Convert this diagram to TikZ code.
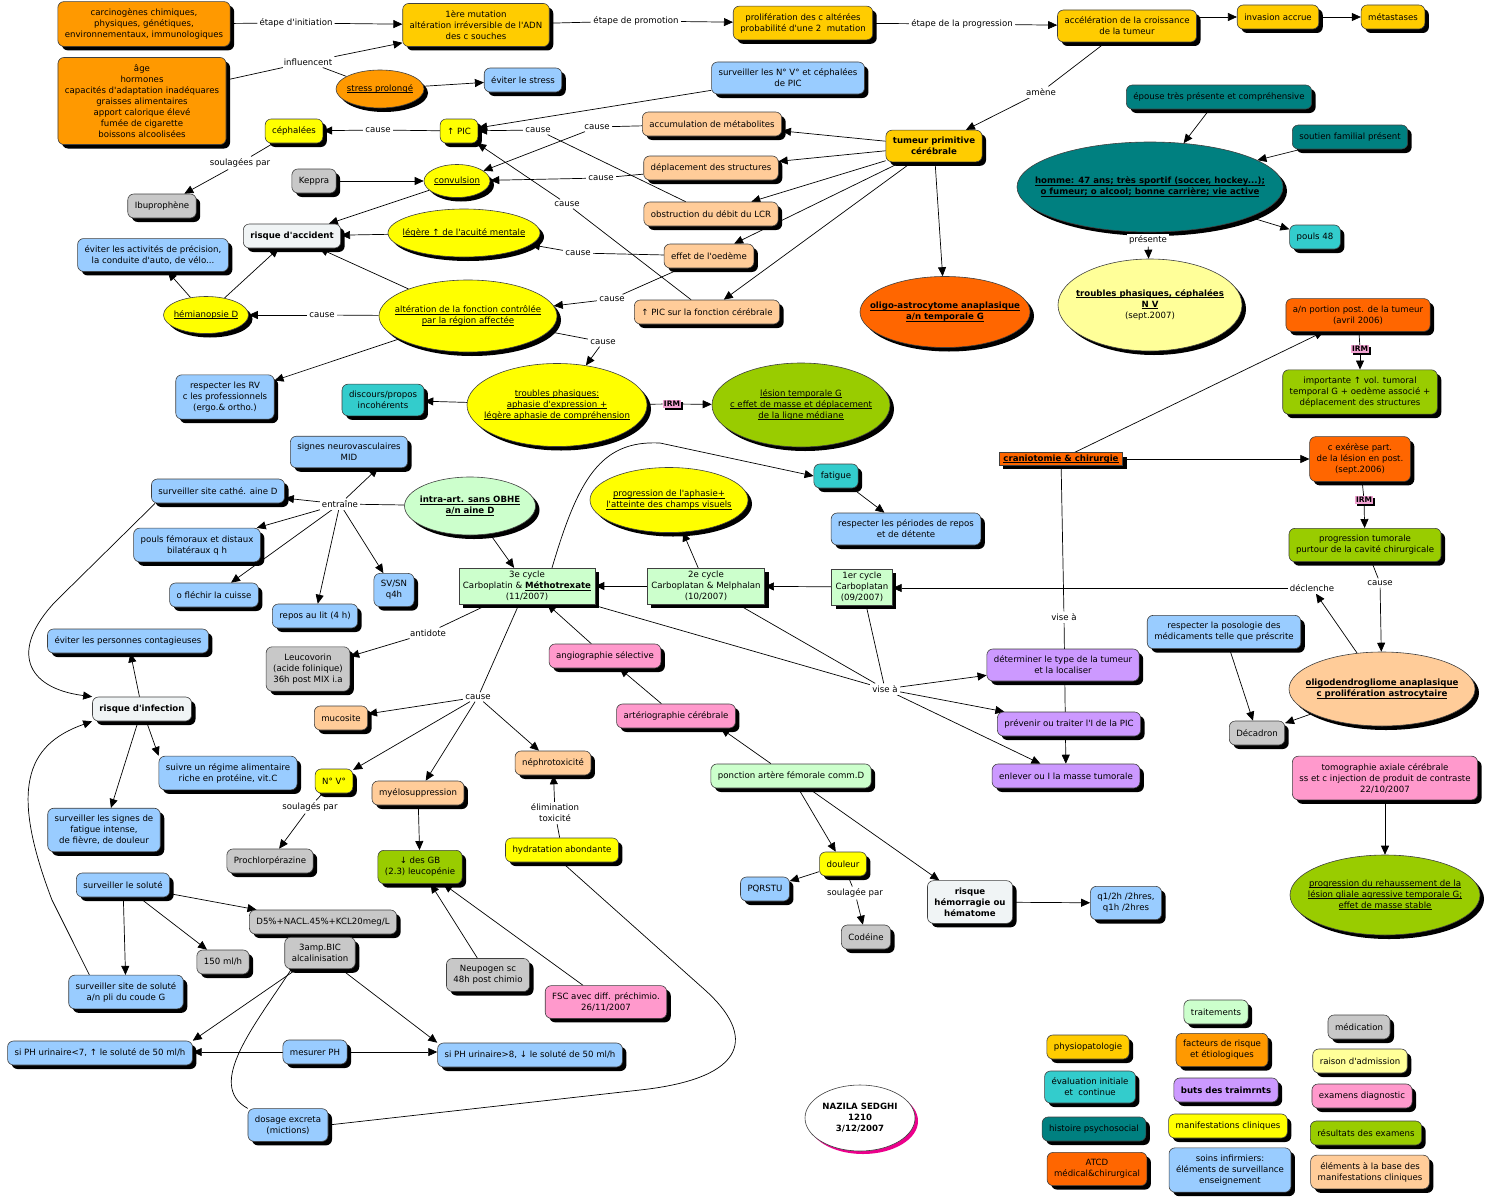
\documentclass[tikz,border=0pt]{standalone}
\usepackage{fontspec}
\setmainfont{DejaVu Sans}[Ligatures=TeXOff]
\usetikzlibrary{arrows.meta,shapes.geometric,shadows,backgrounds}

\definecolor{cgold}{HTML}{FFCC00}
\definecolor{corng}{HTML}{FF9900}
\definecolor{cred}{HTML}{FF6600}
\definecolor{cblue}{HTML}{99CCFF}
\definecolor{cpeach}{HTML}{FFCC99}
\definecolor{cyel}{HTML}{FFFF00}
\definecolor{cpyel}{HTML}{FFFF99}
\definecolor{cgray}{HTML}{C8C8C8}
\definecolor{cmint}{HTML}{CCFFCC}
\definecolor{cgrn}{HTML}{99CC00}
\definecolor{cteal}{HTML}{33CCCC}
\definecolor{cdteal}{HTML}{008080}
\definecolor{cpurp}{HTML}{CC99FF}
\definecolor{cpink}{HTML}{FF99CC}
\definecolor{cpale}{HTML}{F0F4F5}
\definecolor{cirm}{HTML}{F3A3D3}

\newcommand{\mapsize}{\fontsize{8.6}{11}\selectfont}
% underline just below the baseline
\newcommand{\undl}[1]{\underline{\smash{#1}}\vphantom{#1}}
% zero-width text so the ellipse keeps the size given to it
\newcommand{\elltext}[1]{\makebox[0pt]{\begin{tabular}{@{}c@{}}#1\end{tabular}}}

\begin{document}
\begin{tikzpicture}[x=1pt,y=-1pt,font=\mapsize,>={Triangle[length=9pt,width=8pt]},
  shd/.style={drop shadow={shadow xshift=4pt,shadow yshift=-4pt,opacity=1,fill=black}},
  bx/.style={shd,draw=black!75,line width=0.6pt,rounded corners=6pt,align=center,
    inner xsep=7pt,inner ysep=7pt,minimum height=24pt},
  sq/.style={shd,draw=black!75,line width=0.6pt,align=center,inner xsep=4pt,inner ysep=3pt},
  el/.style={shd,ellipse,draw=black!75,line width=0.6pt,inner sep=0pt},
  esz/.style 2 args={minimum width=#1pt,minimum height=#2pt},
  heavy/.style={font=\mapsize\bfseries},
  bxgold/.style={bx,fill=cgold}, bxorng/.style={bx,fill=corng},
  bxred/.style={bx,fill=cred}, bxblue/.style={bx,fill=cblue},
  bxpeach/.style={bx,fill=cpeach}, bxyel/.style={bx,fill=cyel},
  bxpyel/.style={bx,fill=cpyel}, bxgray/.style={bx,fill=cgray},
  bxmint/.style={bx,fill=cmint}, bxgrn/.style={bx,fill=cgrn},
  bxteal/.style={bx,fill=cteal}, bxdteal/.style={bx,fill=cdteal},
  bxpurp/.style={bx,fill=cpurp}, bxpink/.style={bx,fill=cpink},
  bxpale/.style={bx,fill=cpale,heavy},
  elyel/.style={el,fill=cyel}, elorng/.style={el,fill=corng},
  elgrn/.style={el,fill=cgrn}, elred/.style={el,fill=cred},
  elpeach/.style={el,fill=cpeach}, elmint/.style={el,fill=cmint},
  eldteal/.style={el,fill=cdteal}, elpyel/.style={el,fill=cpyel},
  lnk/.style={fill=white,inner sep=2pt,align=center},
  irm/.style={fill=cirm,font=\fontsize{7.5}{8}\selectfont\bfseries,inner sep=1.2pt,
    drop shadow={shadow xshift=2pt,shadow yshift=-2pt,opacity=1,fill=black}},
]
\useasboundingbox (0,0) rectangle (1490,1199);

% carcinogenesis
\node[bxorng] (carc) at (144,24) {carcinogènes chimiques,\\ physiques, génétiques,\\ environnementaux, immunologiques};
\node[bxorng] (age) at (142,101) {âge\\ hormones\\ capacités d'adaptation inadéquares\\ graisses alimentaires\\ apport calorique élevé\\ fumée de cigarette\\ boissons alcoolisées};
\node[bxgold] (mut) at (476,25) {1ère mutation\\ altération irréversible de l'ADN\\ des c souches};
\node[bxgold] (prolif) at (803,23) {prolifération des c altérées\\ probabilité d'une 2\ \ mutation};
\node[bxgold] (accel) at (1127,26) {accélération de la croissance\\ de la tumeur};
\node[bxgold] (invas) at (1278,17) {invasion accrue};
\node[bxgold] (meta) at (1393,17) {métastases};
\node[lnk] (l1) at (296,23) {étape d'initiation};
\node[lnk] (l2) at (636,21) {étape de promotion};
\node[lnk] (l3) at (962,24) {étape de la progression};
\node[lnk] (linf) at (308,62) {influencent};
\node[elorng,esz={88}{38}] (stress) at (380,89) {\elltext{\undl{stress prolongé}}};
\node[bxblue] (evstress) at (523,80) {éviter le stress};
\node[bxblue] (survnv) at (788,78) {surveiller les N° V° et céphalées\\ de PIC};

% intracranial pressure
\node[bxyel] (ceph) at (294,131) {céphalées};
\node[bxyel] (pic) at (459,131) {↑ PIC};
\node[lnk] (lc1) at (378,130) {cause};
\node[lnk] (lsoul) at (240,163) {soulagées par};
\node[bxgray] (ibu) at (162,206) {Ibuprophène};
\node[bxgray] (keppra) at (314,181) {Keppra};
\node[elyel,esz={66}{33}] (conv) at (457,181) {\elltext{\undl{convulsion}}};
\node[bxpale] (raccid) at (292,236) {risque d'accident};
\node[elyel,esz={152}{48}] (legere) at (464,233) {\elltext{\undl{légère ↑ de l'acuité mentale}}};
\node[bxblue] (evact) at (153,255) {éviter les activités de précision,\\ la conduite d'auto, de vélo...};
\node[elyel,esz={85}{37}] (hemi) at (206,315) {\elltext{\undl{hémianopsie D}}};
\node[elyel,esz={178}{72}] (alter) at (468,316) {\elltext{\undl{altération de la fonction contrôlée}\\ \undl{par la région affectée}}};
\node[bxblue] (rv) at (225,397) {respecter les RV\\ c les professionnels\\ (ergo.\& ortho.)};
\node[bxteal] (disc) at (383,400) {discours/propos\\ incohérents};
\node[elyel,esz={180}{83}] (troub) at (557,405) {\elltext{\undl{troubles phasiques:}\\ \undl{aphasie d'expression +}\\ \undl{légère aphasie de compréhension}}};
\node[irm] (irm1) at (672,404) {IRM};
\node[elgrn,esz={178}{84}] (lesion) at (801,405) {\elltext{\undl{lésion temporale G}\\ \undl{c effet de masse et déplacement}\\ \undl{de la ligne médiane}}};

% tumour
\node[bxpeach] (accum) at (712,124) {accumulation de métabolites};
\node[bxpeach] (depl) at (711,168) {déplacement des structures};
\node[bxpeach] (obst) at (711,214) {obstruction du débit du LCR};
\node[bxpeach] (oedeme) at (709,256) {effet de l'oedème};
\node[bxpeach] (picf) at (707,312) {↑ PIC sur la fonction cérébrale};
\node[bxgold,heavy] (tumeur) at (934,146) {tumeur primitive\\ cérébrale};
\node[elred,esz={170}{71},heavy] (oligoA) at (945,312) {\elltext{\undl{oligo-astrocytome anaplasique}\\ \undl{a/n temporale G}}};
\node[lnk] (lc2) at (597,127) {cause};
\node[lnk] (lc3) at (538,130) {cause};
\node[lnk] (lc4) at (601,178) {cause};
\node[lnk] (lc5) at (567,204) {cause};
\node[lnk] (lc6) at (578,253) {cause};
\node[lnk] (lc7) at (612,299) {cause};
\node[lnk] (lc8) at (603,342) {cause};
\node[lnk] (lc9) at (322,315) {cause};
\node[lnk] (lamene) at (1041,92) {amène};

% patient
\node[bxdteal] (epouse) at (1219,97) {épouse très présente et compréhensive};
\node[bxdteal] (soutien) at (1350,137) {soutien familial présent};
\node[eldteal,esz={266}{90},heavy] (homme) at (1150,187) {\elltext{\undl{homme: 47 ans; très sportif (soccer, hockey...);}\\ \undl{o fumeur; o alcool; bonne carrière; vie active}}};
\node[bxteal] (pouls48) at (1315,237) {pouls 48};
\node[lnk] (lpres) at (1148,240) {présente};
\node[elpyel,esz={184}{92}] (troubR) at (1150,305) {\elltext{\textbf{\undl{troubles phasiques, céphalées}}\\ \textbf{\undl{N V}}\\ (sept.2007)}};

% history
\node[bxred] (anpost) at (1358,315) {a/n portion post. de la tumeur\\ (avril 2006)};
\node[irm] (irm2) at (1360,349) {IRM};
\node[bxgrn] (importante) at (1360,392) {importante ↑ vol. tumoral\\ temporal G + oedème associé +\\ déplacement des structures};
\node[sq,fill=cred,heavy,inner ysep=2pt] (cranio) at (1061,459) {\undl{craniotomie \& chirurgie}};
\node[bxred] (exerese) at (1360,459) {c exérèse part.\\ de la lésion en post.\\ (sept.2006)};
\node[irm] (irm3) at (1364,500) {IRM};
\node[bxgrn] (progtum) at (1365,545) {progression tumorale\\ purtour de la cavité chirurgicale};
\node[lnk] (lc10) at (1380,583) {cause};
\node[lnk] (ldecl) at (1312,588) {déclenche};
\node[elpeach,esz={186}{74},heavy] (oligoD) at (1382,689) {\elltext{\undl{oligodendrogliome anaplasique}\\ \undl{c prolifération astrocytaire}}};
\node[bxblue] (poso) at (1224,632) {respecter la posologie des\\ médicaments telle que préscrite};
\node[bxgray] (decad) at (1257,733) {Décadron};
\node[bxpink] (tomo) at (1385,778) {tomographie axiale cérébrale\\ ss et c injection de produit de contraste\\ 22/10/2007};
\node[elgrn,esz={190}{80}] (rehauss) at (1385,895) {\elltext{\undl{progression du rehaussement de la}\\ \undl{lésion gliale agressive temporale G;}\\ \undl{effet de masse stable}}};

% chemotherapy
\node[bxteal] (fatigue) at (836,476) {fatigue};
\node[bxblue] (repos) at (906,529) {respecter les périodes de repos\\ et de détente};
\node[elyel,esz={158}{65}] (progaph) at (669,500) {\elltext{\undl{progression de l'aphasie+}\\ \undl{l'atteinte des champs visuels}}};
\node[elmint,esz={131}{58},heavy] (intra) at (470,506) {\elltext{\undl{intra-art. sans OBHE}\\ \undl{a/n aine D}}};
\node[sq,fill=cmint] (c3) at (527,586) {3e cycle\\ Carboplatin \& \textbf{\undl{Méthotrexate}}\\ (11/2007)};
\node[sq,fill=cmint] (c2) at (706,586) {2e cycle\\ Carboplatan \& Melphalan\\ (10/2007)};
\node[sq,fill=cmint] (c1) at (862,587) {1er cycle\\ Carboplatan\\ (09/2007)};
\node[lnk] (lvise1) at (1064,617) {vise à};
\node[lnk] (lvise2) at (885,689) {vise à};
\node[bxpurp] (determ) at (1063,665) {déterminer le type de la tumeur\\ et la localiser};
\node[bxpurp] (prevenir) at (1069,724) {prévenir ou traiter l'I de la PIC};
\node[bxpurp] (enlever) at (1066,776) {enlever ou I la masse tumorale};

% catheter site
\node[bxblue] (signes) at (349,452) {signes neurovasculaires\\ MID};
\node[bxblue] (cathe) at (218,491) {surveiller site cathé. aine D};
\node[lnk] (lentr) at (340,504) {entraîne};
\node[bxblue] (poulsf) at (197,545) {pouls fémoraux et distaux\\ bilatéraux q h};
\node[bxblue] (flechir) at (214,595) {o fléchir la cuisse};
\node[bxblue] (replit) at (315,616) {repos au lit (4 h)};
\node[bxblue] (svsn) at (394,590) {SV/SN\\ q4h};

% side effects
\node[bxgray] (leuco) at (308,669) {Leucovorin\\ (acide folinique)\\ 36h post MIX i.a};
\node[lnk] (lanti) at (428,633) {antidote};
\node[lnk] (lc11) at (478,697) {cause};
\node[bxpeach] (mucos) at (341,718) {mucosite};
\node[bxyel] (nv) at (334,781) {N° V°};
\node[lnk] (lsoul2) at (310,807) {soulagés par};
\node[bxgray] (prochl) at (270,861) {Prochlorpérazine};
\node[bxpeach] (myelo) at (418,793) {myélosuppression};
\node[bxgrn] (gb) at (420,867) {↓ des GB\\ (2.3) leucopénie};
\node[bxgray] (neupo) at (488,975) {Neupogen sc\\ 48h post chimio};
\node[bxpink] (fsc) at (606,1002) {FSC avec diff. préchimio.\\ 26/11/2007};
\node[bxpeach] (nephro) at (553,763) {néphrotoxicité};
\node[lnk] (lelim) at (555,813) {élimination\\ toxicité};
\node[bxyel] (hydra) at (562,850) {hydratation abondante};

% exams
\node[bxpink] (angio) at (605,656) {angiographie sélective};
\node[bxpink] (arterio) at (676,716) {artériographie cérébrale};
\node[bxmint] (ponct) at (791,776) {ponction artère fémorale comm.D};
\node[bxyel] (douleur) at (843,864) {douleur};
\node[bxblue] (pqrstu) at (765,889) {PQRSTU};
\node[lnk] (lsoul3) at (855,893) {soulagée par};
\node[bxgray] (codeine) at (866,937) {Codéine};
\node[bxpale] (rhemo) at (970,902) {risque\\ hémorragie ou\\ hématome};
\node[bxblue] (q12) at (1126,903) {q1/2h /2hres,\\ q1h /2hres};

% infection
\node[bxblue] (contag) at (128,641) {éviter les personnes contagieuses};
\node[bxpale] (infect) at (142,709) {risque d'infection};
\node[bxblue] (regime) at (228,773) {suivre un régime alimentaire\\ riche en protéine, vit.C};
\node[bxblue] (signfat) at (104,830) {surveiller les signes de\\ fatigue intense,\\ de fièvre, de douleur};
\node[bxblue] (solute) at (123,885) {surveiller le soluté};
\node[bxgray] (d5) at (323,922) {D5\%+NACL.45\%+KCL20meg/L};
\node[bxgray] (bic) at (320,953) {3amp.BIC\\ alcalinisation};
\node[bxgray] (debit) at (223,962) {150 ml/h};
\node[bxblue] (sitesol) at (126,992) {surveiller site de soluté\\ a/n pli du coude G};
\node[bxblue] (phlow) at (100,1053) {si PH urinaire<7, ↑ le soluté de 50 ml/h};
\node[bxblue] (mesph) at (315,1052) {mesurer PH};
\node[bxblue] (phhigh) at (530,1055) {si PH urinaire>8, ↓ le soluté de 50 ml/h};
\node[bxblue] (dosage) at (288,1125) {dosage excreta\\ (mictions)};

% legend
\node[bxmint] (lg1) at (1216,1012) {traitements};
\node[bxgold] (lg2) at (1088,1047) {physiopatologie};
\node[bxorng] (lg3) at (1222,1050) {facteurs de risque\\ et étiologiques};
\node[bxgray] (lg4) at (1359,1027) {médication};
\node[bxpyel] (lg5) at (1360,1061) {raison d'admission};
\node[bxteal] (lg6) at (1090,1087) {évaluation initiale\\ et\ \ continue};
\node[bxpurp,heavy] (lg7) at (1226,1090) {buts des traimrnts};
\node[bxpink] (lg8) at (1362,1096) {examens diagnostic};
\node[bxdteal] (lg9) at (1094,1129) {histoire psychosocial};
\node[bxyel] (lg10) at (1228,1126) {manifestations cliniques};
\node[bxgrn] (lg11) at (1366,1133) {résultats des examens};
\node[bxred] (lg12) at (1097,1169) {ATCD\\ médical\&chirurgical};
\node[bxblue] (lg13) at (1230,1170) {soins infirmiers:\\ éléments de surveillance\\ enseignement};
\node[bxpeach] (lg14) at (1370,1172) {éléments à la base des\\ manifestations cliniques};
\node[ellipse,draw=black!75,line width=0.6pt,fill=white,heavy,esz={110}{66},inner sep=0pt,
  drop shadow={shadow xshift=3pt,shadow yshift=-3pt,opacity=1,fill=magenta}] (author) at (860,1118)
  {\elltext{NAZILA SEDGHI\\ 1210\\ 3/12/2007}};

\begin{pgfonlayer}{background}
\fill[white] (0,0) rectangle (1490,1199);
\begin{scope}[line width=0.7pt]
\draw (carc) -- (l1); \draw[->] (l1) -- (mut);
\draw (mut) -- (l2); \draw[->] (l2) -- (prolif);
\draw (prolif) -- (l3); \draw[->] (l3) -- (accel);
\draw[->] (accel.east |- invas) -- (invas);
\draw[->] (invas) -- (meta);
\draw ([yshift=21pt]age.east) -- (linf); \draw[->] (linf) -- ([yshift=4pt]mut.south west);
\draw (linf) -- (stress);
\draw[->] (stress) -- (evstress);
\draw[->] (survnv) -- (pic);
\draw (pic) -- (lc1); \draw[->] (lc1) -- (ceph);
\draw (ceph) -- (lsoul); \draw[->] (lsoul) -- (ibu);
\draw[->] (keppra) -- (conv);
\draw[->] (conv) -- (raccid);
\draw[->] (legere) -- (raccid);
\draw[->] (alter) -- (raccid);
\draw[->] (hemi) -- (raccid);
\draw[->] (hemi) -- (evact);
\draw (alter) -- (lc9); \draw[->] (lc9) -- (hemi);
\draw[->] (alter) -- (rv);
\draw (alter) -- (lc8); \draw[->] (lc8) -- (troub);
\draw[->] (troub) -- (disc);
\draw (troub) -- (irm1); \draw[->] (irm1) -- (lesion);
\draw (accum) -- (lc2); \draw[->] (lc2) -- (conv);
\draw (obst) -- (lc3); \draw[->] (lc3) -- (pic);
\draw (depl) -- (lc4); \draw[->] (lc4) -- (conv);
\draw (picf) -- (lc5); \draw[->] (lc5) -- (pic);
\draw (oedeme) -- (lc6); \draw[->] (lc6) -- (legere);
\draw (oedeme) -- (lc7); \draw[->] (lc7) -- (alter);
\foreach \t in {accum,depl,obst,oedeme,picf,oligoA}
  \draw[->] (tumeur) -- (\t);
\draw (accel) -- (lamene); \draw[->] (lamene) -- (tumeur);
\draw[->] (epouse) -- (homme);
\draw[->] (soutien) -- (homme);
\draw[->] (homme) -- (pouls48);
\draw (homme) -- (lpres); \draw[->] (lpres) -- (troubR);
\draw (anpost) -- (irm2); \draw[->] (irm2) -- (importante);
\draw[->] (cranio) -- (anpost);
\draw[->] (cranio) -- (exerese);
\draw (exerese) -- (irm3); \draw[->] (irm3) -- (progtum);
\draw (progtum) -- (lc10); \draw[->] (lc10) -- (oligoD);
\draw[->] (oligoD) -- (ldecl); \draw[->] (ldecl) -- (c1.east |- ldecl);
\draw[->] (poso) -- (decad);
\draw[->] (oligoD) -- (decad);
\draw[->] (tomo) -- (rehauss);
\draw (cranio) -- (lvise1); \draw[->] (lvise1) -- (enlever);
\foreach \s in {c3,c2,c1} \draw (\s) -- (lvise2);
\foreach \t in {determ,prevenir,enlever} \draw[->] (lvise2) -- (\t);
\draw[->] (c1) -- (c2); \draw[->] (c2) -- (c3);
\draw[->] (c2) -- (progaph);
\draw[->] (intra) -- (c3);
\draw[->] ([xshift=25pt]c3.north) .. controls (578,480) and (600,440) .. (660,443) -- (fatigue.west);
\draw[->] (fatigue) -- (repos);
\draw (intra) -- (lentr);
\draw[->] (lentr) -- ([xshift=29pt]signes.south);
\foreach \t in {cathe,poulsf,flechir,replit,svsn} \draw[->] (lentr) -- (\t);
\draw (c3) -- (lanti); \draw[->] (lanti) -- (leuco);
\draw (c3) -- (lc11);
\foreach \t in {mucos,nv,myelo,nephro} \draw[->] (lc11) -- (\t);
\draw (nv) -- (lsoul2); \draw[->] (lsoul2) -- (prochl);
\draw[->] (myelo) -- (gb);
\draw[->] (neupo) -- (gb); \draw[->] (fsc) -- (gb);
\draw (hydra) -- (lelim); \draw[->] (lelim) -- (nephro);
\draw (hydra.south) -- (705,990) .. controls (755,1035) and (750,1078) .. (640,1090) -- (dosage.east);
\draw[->] (arterio) -- (angio);
\draw[->] (angio) -- (c3);
\draw[->] ([xshift=-20pt]ponct.north) -- ([xshift=-15pt]arterio.south east);
\draw[->] (ponct) -- (douleur); \draw[->] (ponct) -- (rhemo);
\draw[->] (douleur) -- (pqrstu);
\draw (douleur) -- (lsoul3); \draw[->] (lsoul3) -- (codeine);
\draw[->] (rhemo) -- (q12);
\draw[->] ([xshift=4pt]cathe.south west) -- (55,602) .. controls (10,650) and (25,688) .. (infect.north west);
\draw[->] (infect) -- (contag);
\draw[->] (infect) -- (regime.north west);
\draw[->] (infect) -- (signfat);
\draw[->] (solute) -- (d5); \draw[->] (solute) -- (debit); \draw[->] (solute) -- (sitesol);
\draw[->] ([xshift=21pt]sitesol.north west) -- (52,900) .. controls (10,790) and (25,745) .. (infect.south west);
\draw[->] (bic) -- (phlow.north east);
\draw[->] (bic) -- (phhigh.north west);
\draw[->] (mesph) -- (phlow.east |- mesph);
\draw[->] (mesph) -- (phhigh.west |- mesph);
\draw ([xshift=7pt]bic.south west) .. controls (255,1025) and (205,1085) .. (dosage.north west);
\end{scope}
\end{pgfonlayer}
\end{tikzpicture}
\end{document}
